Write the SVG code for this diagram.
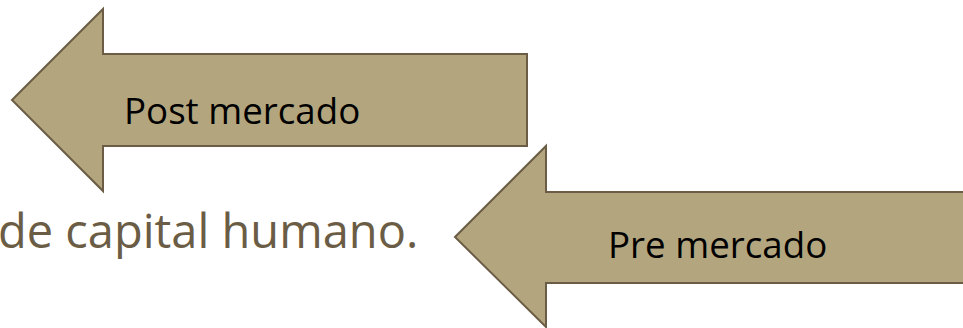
<svg xmlns="http://www.w3.org/2000/svg" width="963" height="328" viewBox="0 0 963 328">
<style>
.arrow{fill:#b3a67e;stroke:#6b5d45;stroke-width:2;stroke-linejoin:miter}
.lbl{font-family:"Open Sans","Noto Sans",sans-serif;font-size:36.7px;fill:#000}
.body{font-family:"Open Sans","Noto Sans",sans-serif;font-size:47px;fill:#6b5d45}
</style>
<rect width="963" height="328" fill="#fff"/>
<g id="body-text"><text class="body" x="-2" y="248">de capital humano.</text></g>
<g id="post-mercado">
<path class="arrow" d="M12,100 L103,9 L103,54 L527,54 L527,146 L103,146 L103,191 Z"/>
<text class="lbl" x="124" y="124">Post mercado</text>
</g>
<g id="pre-mercado">
<path class="arrow" d="M455,237 L546,146 L546,192 L975,192 L975,283 L546,283 L546,327 Z"/>
<text class="lbl" x="608" y="258">Pre mercado</text>
</g>
<g id="connectors"></g>
</svg>
